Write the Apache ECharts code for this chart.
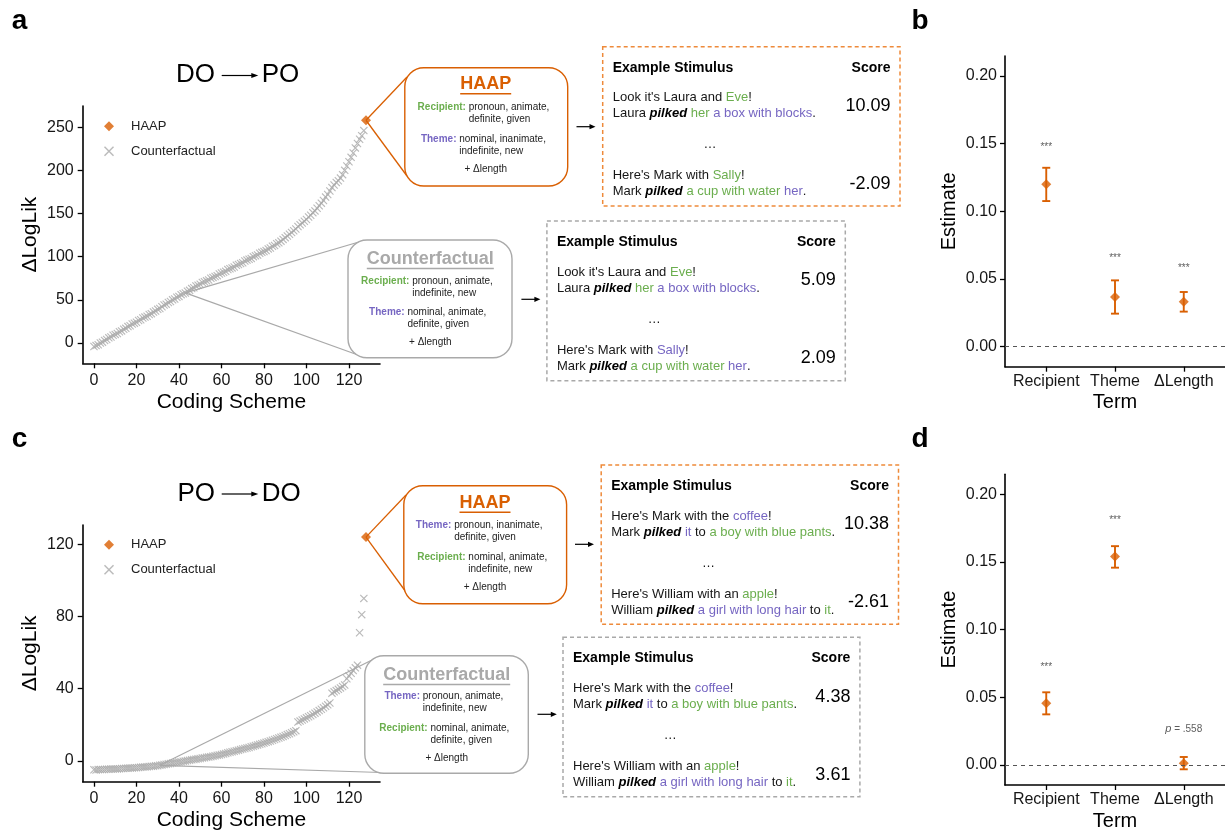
<!DOCTYPE html>
<html><head><meta charset="utf-8">
<script src="https://cdn.jsdelivr.net/npm/echarts@6/dist/echarts.min.js"></script>
<style>html,body{margin:0;padding:0;background:#fff}#c{width:1225px;height:831px}</style>
</head><body><div id="c"></div>
<script>
const FONT = '"Liberation Sans", Arial, Helvetica, sans-serif';
const ORANGE = '#D95F02';
const ORANGE_DASH = '#EE8A3A';
const GRAY = '#A9A9A9';
const GREEN = '#6BAE4E';
const PURPLE = '#7666C2';
const INK = '#161616';

// ---------- Data: panel a (DO -> PO) ----------
const doPoCounterfactual = [
  -4, -3, -2, 0, 1, 3, 4, 6, 7, 9,
  10, 11, 13, 14, 16, 17, 19, 20, 22, 23,
  24, 26, 27, 29, 30, 31, 33, 34, 36, 37,
  39, 40, 42, 44, 45, 47, 48, 50, 51, 53,
  54, 56, 57, 58, 60, 61, 63, 64, 66, 67,
  68, 70, 71, 72, 73, 75, 76, 77, 78, 80,
  81, 82, 83, 85, 86, 87, 88, 90, 91, 92,
  93, 95, 96, 97, 98, 100, 101, 102, 104, 105,
  106, 107, 109, 110, 112, 113, 115, 116, 118, 120,
  122, 124, 126, 128, 130, 132, 135, 137, 139, 141,
  143, 146, 148, 151, 153, 156, 159, 162, 165, 169,
  172, 176, 180, 183, 186, 188, 191, 195, 200, 205,
  210, 215, 220, 226, 231, 236, 240, 246
];
const doPoHaap = [128, 258];
const doPoHighlightIndex = 43;

// ---------- Data: panel c (PO -> DO) ----------
const poDoCounterfactual = [
  -5.0, -5.1, -4.9, -4.9, -4.8, -4.8, -4.7, -4.7, -4.6, -4.6,
  -4.5, -4.5, -4.4, -4.3, -4.3, -4.2, -4.1, -4.0, -4.0, -3.9,
  -3.8, -3.7, -3.6, -3.5, -3.4, -3.3, -3.2, -3.1, -3.0, -2.8,
  -2.7, -2.5, -2.3, -2.1, -1.9, -1.7, -1.5, -1.3, -1.1, -0.9,
  -0.7, -0.5, -0.3, -0.1, 0.1, 0.3, 0.5, 0.7, 0.9, 1.1,
  1.3, 1.5, 1.7, 1.9, 2.1, 2.3, 2.5, 2.8, 3.0, 3.2,
  3.5, 3.8, 4.1, 4.4, 4.7, 5.0, 5.3, 5.6, 5.9, 6.2,
  6.5, 6.8, 7.1, 7.4, 7.8, 8.1, 8.4, 8.8, 9.1, 9.4,
  9.8, 10.2, 10.6, 11.0, 11.4, 11.8, 12.2, 12.6, 13.1, 13.5,
  14.0, 14.5, 15.0, 15.5, 16.1, 16.7,
  21.5, 22.0, 22.6, 23.2, 23.8, 24.4, 25.0, 25.7, 26.4, 27.1, 27.8, 28.6, 29.4, 30.2, 31.0, 32.0,
  37.5, 38.2, 38.9, 39.6, 40.4, 41.2, 42.0,
  45.5, 47.0, 48.5, 50.0, 51.5, 53.0,
  71, 81, 90
];
const poDoHaap = [128, 124];
const poDoHighlightIndex = 31;

// ---------- Ticks ----------
const codingTicks = [0, 20, 40, 60, 80, 100, 120];
const logLikTicksA = [0, 50, 100, 150, 200, 250];
const logLikTicksC = [0, 40, 80, 120];
const estimateTicks = [0, 0.05, 0.10, 0.15, 0.20];

// ---------- Data: panels b and d ----------
const terms = ['Recipient', 'Theme', 'ΔLength'];
const termPos = [1, 2, 3];
const doPoEstimate = [0.1200, 0.0367, 0.0332];
const doPoLower    = [0.1076, 0.0244, 0.0259];
const doPoUpper    = [0.1322, 0.0490, 0.0404];
const doPoSig      = ['***', '***', '***'];
const doPoSigY     = [0.1477, 0.0650, 0.0583];
const poDoEstimate = [0.0456, 0.1541, 0.0012];
const poDoLower    = [0.0374, 0.1458, -0.0032];
const poDoUpper    = [0.0537, 0.1617, 0.0059];
const poDoSig      = ['***', '***', 'p = .558'];
const poDoSigY     = [0.0719, 0.1810, 0.0264];

const XPATH = 'path://M0,1L1,0L5,4L9,0L10,1L6,5L10,9L9,10L5,6L1,10L0,9L4,5Z';

const chart = echarts.init(document.getElementById('c'), null, {renderer: 'canvas', width: 1225, height: 831});

const axisLine = {show: true, onZero: false, lineStyle: {color: '#000', width: 1.6}};
const tick = {show: true, length: 5, lineStyle: {color: '#000', width: 1.3}};
const lab = {color: INK, fontFamily: FONT, fontSize: 16};
const nameSt = {color: '#000', fontFamily: FONT, fontSize: 21};

function codingX(gi) {
  return {gridIndex: gi, type: 'value', min: -5.3, max: 134.6,
    axisLine, axisTick: Object.assign({}, tick, {customValues: codingTicks}),
    axisLabel: Object.assign({}, lab, {margin: 9, customValues: codingTicks}),
    splitLine: {show: false}, name: 'Coding Scheme', nameLocation: 'middle', nameGap: 28, nameTextStyle: nameSt};
}
function logLikY(gi, min, max, ticks) {
  return {gridIndex: gi, type: 'value', min, max,
    axisLine, axisTick: Object.assign({}, tick, {customValues: ticks}),
    axisLabel: Object.assign({}, lab, {margin: 9, customValues: ticks}),
    splitLine: {show: false}, name: 'ΔLogLik', nameLocation: 'middle', nameGap: 42, nameTextStyle: nameSt};
}
function termX(gi) {
  return {gridIndex: gi, type: 'value', min: 0.4, max: 3.6,
    axisLine, axisTick: Object.assign({}, tick, {customValues: termPos}),
    axisLabel: Object.assign({}, lab, {margin: 7, customValues: termPos, formatter: v => terms[Math.round(v) - 1]}),
    splitLine: {show: false}, name: 'Term', nameLocation: 'middle', nameGap: 26,
    nameTextStyle: Object.assign({}, nameSt, {fontSize: 20})};
}
function estY(gi) {
  return {gridIndex: gi, type: 'value', min: -0.0148, max: 0.2148,
    axisLine, axisTick: Object.assign({}, tick, {customValues: estimateTicks}),
    axisLabel: Object.assign({}, lab, {margin: 8, customValues: estimateTicks, formatter: v => v.toFixed(2)}),
    splitLine: {show: false}, name: 'Estimate', nameLocation: 'middle', nameGap: 46,
    nameTextStyle: Object.assign({}, nameSt, {fontSize: 20})};
}

function errRender(params, api) {
  const x = api.value(0), lo = api.value(2), hi = api.value(3);
  const a = api.coord([x, hi]), b = api.coord([x, lo]);
  const cw = 4;
  const st = {stroke: ORANGE, lineWidth: 1.9};
  return {type: 'group', children: [
    {type: 'line', shape: {x1: a[0], y1: a[1], x2: b[0], y2: b[1]}, style: st},
    {type: 'line', shape: {x1: a[0] - cw, y1: a[1], x2: a[0] + cw, y2: a[1]}, style: st},
    {type: 'line', shape: {x1: b[0] - cw, y1: b[1], x2: b[0] + cw, y2: b[1]}, style: st}
  ]};
}

function estSeries(gi, est, lo, hi, sig, sigY) {
  return [
    {type: 'custom', xAxisIndex: gi, yAxisIndex: gi, silent: true, z: 3,
     data: est.map((e, i) => [termPos[i], e, lo[i], hi[i]]), renderItem: errRender},
    {type: 'scatter', xAxisIndex: gi, yAxisIndex: gi, silent: true, z: 4,
     data: est.map((e, i) => [termPos[i], e]), symbol: 'diamond', symbolSize: 10,
     itemStyle: {color: ORANGE},
     markLine: {silent: true, symbol: ['none', 'none'], label: {show: false},
       lineStyle: {color: '#555', type: [4, 4], width: 1}, data: [{yAxis: 0}]}},
    {type: 'scatter', xAxisIndex: gi, yAxisIndex: gi, silent: true, z: 4,
     data: sig.map((s, i) => ({value: [termPos[i], sigY[i]], name: s})),
     symbol: 'circle', symbolSize: 1, itemStyle: {color: 'rgba(0,0,0,0)'},
     label: {show: true, position: 'inside', color: '#333', fontFamily: FONT, fontSize: 10,
       formatter: p => p.name.startsWith('p ') ? '{i|p}' + p.name.slice(1) : p.name,
       rich: {i: {fontStyle: 'italic', fontFamily: FONT, fontSize: 11, color: '#333'}}}}
  ];
}

function scatterSeries(gi, cf, haap) {
  return [
    {type: 'scatter', name: 'Counterfactual', xAxisIndex: gi, yAxisIndex: gi, silent: true, z: 2,
     data: cf.map((v, i) => [i, v]), symbol: XPATH, symbolSize: 8, itemStyle: {color: GRAY}},
    {type: 'scatter', name: 'HAAP', xAxisIndex: gi, yAxisIndex: gi, silent: true, z: 4,
     data: [haap], symbol: 'diamond', symbolSize: 10, itemStyle: {color: ORANGE}}
  ];
}

function legendAt(top) {
  return {left: 104, top, orient: 'vertical', padding: 0, itemWidth: 10, itemHeight: 10, itemGap: 12,
    selectedMode: false,
    data: [{name: 'HAAP', icon: 'diamond'}, {name: 'Counterfactual', icon: XPATH}],
    textStyle: {fontFamily: FONT, fontSize: 13, color: '#222', padding: [0, 0, 0, 12]}};
}

chart.setOption({
  animation: false,
  backgroundColor: '#fff',
  textStyle: {fontFamily: FONT},
  grid: [
    {left: 82.7, top: 106, width: 297.3, height: 257.3, containLabel: false, outerBoundsMode: 'none'},
    {left: 1005, top: 56, width: 220, height: 310.7, containLabel: false, outerBoundsMode: 'none'},
    {left: 82.7, top: 525, width: 297.3, height: 256.7, containLabel: false, outerBoundsMode: 'none'},
    {left: 1005, top: 474.3, width: 220, height: 310.7, containLabel: false, outerBoundsMode: 'none'}
  ],
  xAxis: [codingX(0), termX(1), codingX(2), termX(3)],
  yAxis: [logLikY(0, -23.5, 274.5, logLikTicksA), estY(1), logLikY(2, -11.6, 130.7, logLikTicksC), estY(3)],
  legend: [legendAt(119.7), legendAt(538.3)],
  series: [].concat(
    scatterSeries(0, doPoCounterfactual, doPoHaap),
    estSeries(1, doPoEstimate, doPoLower, doPoUpper, doPoSig, doPoSigY),
    scatterSeries(2, poDoCounterfactual, poDoHaap),
    estSeries(3, poDoEstimate, poDoLower, poDoUpper, poDoSig, poDoSigY)
  )
});

// ---------- Annotation graphics ----------
const mctx = document.createElement('canvas').getContext('2d');
function tw(text, size, weight) { mctx.font = (weight || 'normal') + ' ' + size + 'px ' + FONT; return mctx.measureText(text).width; }

const G = [];
function txt(x, y, text, o) {
  o = o || {};
  G.push({type: 'text', x, y, z: o.z || 20, style: {
    text, fontFamily: FONT, fontSize: o.size || 13, fontWeight: o.weight || 'normal', fontStyle: o.style || 'normal',
    fill: o.color || INK, align: o.align || 'left', verticalAlign: 'middle', rich: o.rich}});
}
function line(x1, y1, x2, y2, color, w, z) {
  G.push({type: 'line', z: z || 1, shape: {x1, y1, x2, y2}, style: {stroke: color, lineWidth: w || 1.2}});
}
function arrow(x1, x2, y, head, hw, w) {
  head = head || 6; hw = hw || 2.6;
  line(x1, y, x2 - head + 1, y, '#000', w || 1.2, 20);
  G.push({type: 'polygon', z: 20, shape: {points: [[x2, y], [x2 - head, y - hw], [x2 - head, y + hw]]}, style: {fill: '#000'}});
}
function rbox(x, y, w, h, color, dashed) {
  G.push({type: 'rect', z: 10, shape: {x, y, width: w, height: h, r: dashed ? 0 : 19},
    style: {fill: '#fff', stroke: color, lineWidth: dashed ? 1.5 : 1.4, lineDash: dashed ? [4, 3] : null}});
}

const richEx = {
  g: {fill: GREEN, fontFamily: FONT, fontSize: 13},
  p: {fill: PURPLE, fontFamily: FONT, fontSize: 13},
  bi: {fill: '#000', fontFamily: FONT, fontSize: 13, fontWeight: 'bold', fontStyle: 'italic'}
};

function example(bx, by, bw, bh, color, rows) {
  rbox(bx, by, bw, bh, color, true);
  const L = bx + 10, R = bx + bw - 9.5;
  txt(L, by + 21, 'Example Stimulus', {size: 14, weight: 'bold', color: '#000'});
  txt(R, by + 21, 'Score', {size: 14, weight: 'bold', color: '#000', align: 'right'});
  txt(L, by + 51, rows[0], {rich: richEx});
  txt(L, by + 67, rows[1], {rich: richEx});
  txt(R, by + 59.5, rows[2], {size: 18, align: 'right', color: '#000'});
  txt(bx + 107.3, by + 98, '…', {size: 13, align: 'center'});
  txt(L, by + 129, rows[3], {rich: richEx});
  txt(L, by + 145, rows[4], {rich: richEx});
  txt(R, by + 137.5, rows[5], {size: 18, align: 'right', color: '#000'});
}

function schemeBox(bx, by, bw, bh, color, title, cx, titleY, attrs, plusY) {
  rbox(bx, by, bw, bh, color, false);
  txt(cx, titleY, title, {size: 18, weight: 'bold', color, align: 'center'});
  const w = tw(title, 18, 'bold');
  G.push({type: 'line', z: 20, shape: {x1: cx - w / 2, y1: titleY + 9.5, x2: cx + w / 2, y2: titleY + 9.5}, style: {stroke: color, lineWidth: 1.5}});
  attrs.forEach(a => {
    const c = a.label === 'Recipient:' ? GREEN : PURPLE;
    txt(a.x, a.y1, '{l|' + a.label + '} ' + a.v1, {size: 10, color: '#222',
      rich: {l: {fill: c, fontFamily: FONT, fontSize: 10, fontWeight: 'bold'}}});
    const vx = a.x + tw(a.label, 10, 'bold') + tw(' ', 10);
    txt(vx, a.y2, a.v2, {size: 10, color: '#222'});
  });
  txt(cx, plusY, '+ Δlength', {size: 10, color: '#222', align: 'center'});
}

function title(y, left, right) {
  txt(215, y, left, {size: 26, align: 'right', color: '#000'});
  arrow(221.7, 258.3, y + 0.5, 7, 2.6, 1.2);
  txt(261.7, y, right, {size: 26, color: '#000'});
}

// Panel letters
txt(11.7, 21, 'a', {size: 28, weight: 'bold', color: '#000'});
txt(911.5, 21, 'b', {size: 28, weight: 'bold', color: '#000'});
txt(11.7, 439, 'c', {size: 28, weight: 'bold', color: '#000'});
txt(911.5, 439, 'd', {size: 28, weight: 'bold', color: '#000'});

title(75, 'DO', 'PO');
title(493.5, 'PO', 'DO');

// Connection lines anchored to data points
const pA = chart.convertToPixel({gridIndex: 0}, doPoHaap);
const pAc = chart.convertToPixel({gridIndex: 0}, [doPoHighlightIndex, doPoCounterfactual[doPoHighlightIndex]]);
const pC = chart.convertToPixel({gridIndex: 2}, poDoHaap);
const pCc = chart.convertToPixel({gridIndex: 2}, [poDoHighlightIndex, poDoCounterfactual[poDoHighlightIndex]]);

line(pA[0], pA[1], 407, 77, ORANGE, 1.3);
line(pA[0], pA[1], 407, 176, ORANGE, 1.3);
line(pAc[0], pAc[1], 364, 240.5, GRAY, 1.2);
line(pAc[0], pAc[1], 365, 357.5, GRAY, 1.2);
line(pC[0], pC[1], 406, 495, ORANGE, 1.3);
line(pC[0], pC[1], 406, 592, ORANGE, 1.3);
line(pCc[0], pCc[1], 372, 660, GRAY, 1.2);
line(pCc[0], pCc[1], 381, 772.5, GRAY, 1.2);

// Panel a boxes
schemeBox(404.8, 67.7, 162.9, 118.3, ORANGE, 'HAAP', 485.7, 84.3, [
  {label: 'Recipient:', x: 417.6, y1: 107.7, y2: 119.3, v1: 'pronoun, animate,', v2: 'definite, given'},
  {label: 'Theme:', x: 420.9, y1: 139.3, y2: 151.7, v1: 'nominal, inanimate,', v2: 'indefinite, new'}
], 169.3);
schemeBox(348, 240, 164, 117.7, GRAY, 'Counterfactual', 430.3, 259, [
  {label: 'Recipient:', x: 361.1, y1: 281.3, y2: 293.3, v1: 'pronoun, animate,', v2: 'indefinite, new'},
  {label: 'Theme:', x: 369.1, y1: 312.7, y2: 324.3, v1: 'nominal, animate,', v2: 'definite, given'}
], 342.7);
arrow(576.5, 595.5, 126.7);
arrow(521.4, 540.4, 299.3);
example(602.7, 46.7, 297.3, 159.3, ORANGE_DASH, [
  "Look it's Laura and {g|Eve}!",
  'Laura {bi|pilked} {g|her} {p|a box with blocks}.',
  '10.09',
  "Here's Mark with {g|Sally}!",
  'Mark {bi|pilked} {g|a cup with water} {p|her}.',
  '-2.09'
]);
example(546.9, 221, 298.4, 159.7, GRAY, [
  "Look it's Laura and {g|Eve}!",
  'Laura {bi|pilked} {g|her} {p|a box with blocks}.',
  '5.09',
  "Here's Mark with {p|Sally}!",
  'Mark {bi|pilked} {g|a cup with water} {p|her}.',
  '2.09'
]);

// Panel c boxes
schemeBox(403.8, 485.7, 162.8, 118, ORANGE, 'HAAP', 485, 502.7, [
  {label: 'Theme:', x: 415.8, y1: 525.7, y2: 537.3, v1: 'pronoun, inanimate,', v2: 'definite, given'},
  {label: 'Recipient:', x: 417.2, y1: 557.3, y2: 569.3, v1: 'nominal, animate,', v2: 'indefinite, new'}
], 587.7);
schemeBox(364.8, 655.7, 163.5, 117.6, GRAY, 'Counterfactual', 446.7, 675, [
  {label: 'Theme:', x: 384.4, y1: 696.7, y2: 708.3, v1: 'pronoun, animate,', v2: 'indefinite, new'},
  {label: 'Recipient:', x: 379.3, y1: 728.3, y2: 740.7, v1: 'nominal, animate,', v2: 'definite, given'}
], 758.3);
arrow(575, 594, 544.3);
arrow(537.5, 556.8, 714.3);
example(601.2, 465, 297.3, 159.3, ORANGE_DASH, [
  "Here's Mark with the {p|coffee}!",
  'Mark {bi|pilked} {p|it} to {g|a boy with blue pants}.',
  '10.38',
  "Here's William with an {g|apple}!",
  'William {bi|pilked} {p|a girl with long hair} to {g|it}.',
  '-2.61'
]);
example(563, 637.3, 296.9, 159.4, GRAY, [
  "Here's Mark with the {p|coffee}!",
  'Mark {bi|pilked} {p|it} to {g|a boy with blue pants}.',
  '4.38',
  "Here's William with an {g|apple}!",
  'William {bi|pilked} {p|a girl with long hair} to {g|it}.',
  '3.61'
]);

chart.setOption({graphic: {elements: G}});
</script>
</body></html>
